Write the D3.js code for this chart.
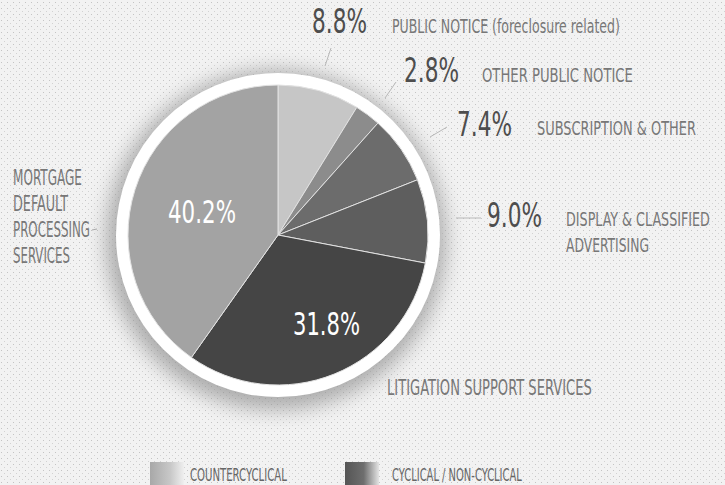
<!DOCTYPE html>
<html>
<head>
<meta charset="utf-8">
<script src="https://cdn.jsdelivr.net/npm/d3@7"></script>
<style>
  html, body { margin: 0; padding: 0; background: #efefef; }
  svg { display: block; }
  text { font-family: "DejaVu Sans Condensed", "Liberation Sans Narrow", "DejaVu Sans", sans-serif; }
</style>
</head>
<body>
<svg id="chart" width="725" height="485"></svg>
<script>
// ---- data ----
const categories = [
  "PUBLIC NOTICE (foreclosure related)",
  "OTHER PUBLIC NOTICE",
  "SUBSCRIPTION & OTHER",
  "DISPLAY & CLASSIFIED ADVERTISING",
  "LITIGATION SUPPORT SERVICES",
  "MORTGAGE DEFAULT PROCESSING SERVICES"
];
const values = [8.8, 2.8, 7.4, 9.0, 31.8, 40.2];
const groups = ["countercyclical", "cyclical", "cyclical", "cyclical", "cyclical", "countercyclical"];
const legendLabels = ["COUNTERCYCLICAL", "CYCLICAL / NON-CYCLICAL"];

// ---- styling / layout ----
const sliceColors = ["#c6c6c6", "#8c8c8c", "#6c6c6c", "#5e5e5e", "#454545", "#a3a3a3"];
const W = 725, H = 485;
const cx = 278, cy = 235, R = 150;

const svg = d3.select("#chart");
const defs = svg.append("defs");

// background dotted texture
const pat = defs.append("pattern").attr("id", "dots").attr("width", 6).attr("height", 6)
  .attr("patternUnits", "userSpaceOnUse");
pat.append("rect").attr("width", 6).attr("height", 6).attr("fill", "#f2f2f2");
pat.append("rect").attr("x", 1).attr("y", 2).attr("width", 1).attr("height", 1).attr("fill", "#c4c4c4");
pat.append("rect").attr("x", 4).attr("y", 5).attr("width", 1).attr("height", 1).attr("fill", "#d2d2d2");
svg.append("rect").attr("width", W).attr("height", H).attr("fill", "url(#dots)");

// shadow filter
const f = defs.append("filter").attr("id", "blur").attr("x", "-30%").attr("y", "-30%").attr("width", "160%").attr("height", "160%");
f.append("feGaussianBlur").attr("stdDeviation", 10);

svg.append("circle").attr("cx", cx - 2).attr("cy", cy + 5).attr("r", R + 20)
  .attr("fill", "#8f8f8f").attr("filter", "url(#blur)").attr("opacity", 0.7);
svg.append("circle").attr("cx", cx).attr("cy", cy).attr("r", R + 12).attr("fill", "#ffffff");

const pie = d3.pie().sort(null).value(d => d)(values);
const arc = d3.arc().innerRadius(0).outerRadius(R);

const g = svg.append("g").attr("transform", `translate(${cx},${cy})`);
g.selectAll("path.slice").data(pie).join("path")
  .attr("class", "slice")
  .attr("d", arc)
  .attr("fill", (d, i) => sliceColors[i])
  .attr("stroke", "#e2e2e2")
  .attr("stroke-width", 1);

const fmt = d => d3.format(".1f")(d) + "%";

// helper: text horizontally scaled to a given width
function txt(x, y, s, size, width, fill) {
  const gg = svg.append("g");
  const t = gg.append("text").attr("x", 0).attr("y", 0).attr("font-size", size)
    .attr("fill", fill).text(s);
  const nw = t.node().getComputedTextLength() || width;
  gg.attr("transform", `translate(${x},${y}) scale(${width / nw},1)`);
  return t;
}

// inside labels (white)
const insideLayout = [null, null, null, null, { x: 293, y: 335, w: 67 }, { x: 168, y: 223, w: 68 }];
pie.forEach((d, i) => {
  const p = insideLayout[i];
  if (!p) return;
  txt(p.x, p.y, fmt(d.data), 32, p.w, "#ffffff");
});

// outside labels
const outside = [
  { pct: [312, 33], lbl: [392, 33], w: [228], lines: ["PUBLIC NOTICE (foreclosure related)"], lead: [[325, 66], [331, 48]] },
  { pct: [404, 82], lbl: [482, 82], w: [151], lines: ["OTHER PUBLIC NOTICE"], lead: [[385, 98], [396, 82]] },
  { pct: [457, 136], lbl: [537, 135], w: [159], lines: ["SUBSCRIPTION & OTHER"], lead: [[430, 137], [447, 127]] },
  { pct: [487, 227], lbl: [566, 226], w: [144, 83], lines: ["DISPLAY & CLASSIFIED", "ADVERTISING"], lead: [[456, 218], [481, 218]] }
];
outside.forEach((o, i) => {
  svg.append("line").attr("x1", o.lead[0][0]).attr("y1", o.lead[0][1])
    .attr("x2", o.lead[1][0]).attr("y2", o.lead[1][1])
    .attr("stroke", "#b8b8b8").attr("stroke-width", 1);
  txt(o.pct[0], o.pct[1], fmt(values[i]), 33, 55, "#4d4d4d");
  o.lines.forEach((ln, j) => txt(o.lbl[0], o.lbl[1] + j * 26, ln, 20, o.w[j], "#777"));
});

// litigation label
txt(387, 395, categories[4], 21, 205, "#777");

// mortgage label (multi-line)
const mortLines = ["MORTGAGE", "DEFAULT", "PROCESSING", "SERVICES"];
const mortW = [69, 55, 77, 57];
const mortY = [185, 211, 237, 263];
mortLines.forEach((ln, j) => txt(13, mortY[j], ln, 21, mortW[j], "#777"));
svg.append("line").attr("x1", 92).attr("y1", 230).attr("x2", 97).attr("y2", 229)
  .attr("stroke", "#aaa").attr("stroke-width", 1);

// legend
const lg1 = defs.append("linearGradient").attr("id", "lgCounter");
lg1.append("stop").attr("offset", "0%").attr("stop-color", "#a8a8a8");
lg1.append("stop").attr("offset", "60%").attr("stop-color", "#c8c8c8");
lg1.append("stop").attr("offset", "100%").attr("stop-color", "#efefef");
const lg2 = defs.append("linearGradient").attr("id", "lgCyc");
lg2.append("stop").attr("offset", "0%").attr("stop-color", "#555");
lg2.append("stop").attr("offset", "55%").attr("stop-color", "#6e6e6e");
lg2.append("stop").attr("offset", "100%").attr("stop-color", "#e4e4e4");

const legendLayout = [{ sx: 150, tx: 190, w: 97 }, { sx: 345, tx: 392, w: 130 }];
legendLabels.forEach((lab, i) => {
  const p = legendLayout[i];
  svg.append("rect").attr("x", p.sx).attr("y", 462).attr("width", 34).attr("height", 23)
    .attr("fill", i === 0 ? "url(#lgCounter)" : "url(#lgCyc)");
  txt(p.tx, 481, lab, 17, p.w, "#666");
});
</script>
</body>
</html>
